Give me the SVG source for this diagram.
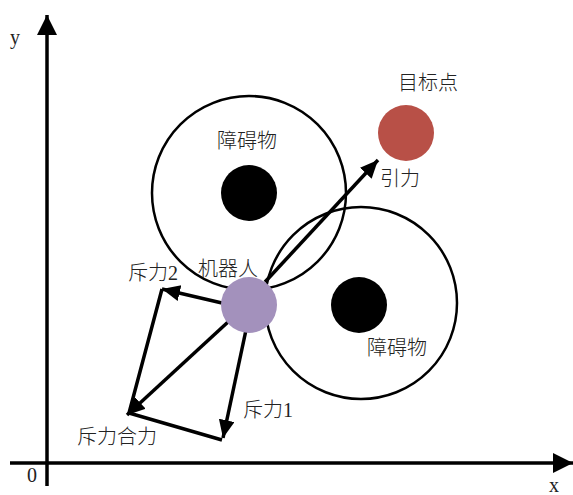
<svg xmlns="http://www.w3.org/2000/svg" width="573" height="495" viewBox="0 0 573 495">
<style>
.t{font-family:"Liberation Serif","Noto Sans CJK SC",serif;font-size:20px;fill:#222;font-weight:300}
.ax{stroke:#000;stroke-width:3.5;fill:none}
.ring{stroke:#000;stroke-width:2.5;fill:none}
.ar{stroke:#000;stroke-width:3.5;fill:none;marker-end:url(#ah)}
.ln{stroke:#000;stroke-width:3.5;fill:none}
</style>
<defs>
<marker id="ah" markerUnits="userSpaceOnUse" markerWidth="20" markerHeight="18" refX="18" refY="8" orient="auto">
<path d="M0,0 L18,8 L0,16 z" fill="#000"/>
</marker>
<marker id="axh" markerUnits="userSpaceOnUse" markerWidth="22" markerHeight="22" refX="20" refY="10" orient="auto">
<path d="M0,0 L20,10 L0,20 z" fill="#000"/>
</marker>
</defs>
<g id="axes">
<line class="ax" x1="47" y1="486" x2="47" y2="15" marker-end="url(#axh)"/>
<line class="ax" x1="10" y1="463" x2="573" y2="463" marker-end="url(#axh)"/>
<text class="t" x="10" y="44">y</text>
<text class="t" x="27" y="482">0</text>
<text class="t" x="549" y="492">x</text>
</g>
<g id="obstacle1">
<circle class="ring" cx="249" cy="193" r="97"/>
<circle cx="249" cy="193" r="28" fill="#000"/>
<text class="t" x="217" y="148">障碍物</text>
</g>
<g id="obstacle2">
<circle class="ring" cx="361" cy="303" r="96"/>
<circle cx="359" cy="305" r="28" fill="#000"/>
<text class="t" x="367" y="355">障碍物</text>
</g>
<g id="target">
<circle cx="406" cy="133" r="28" fill="#B85047"/>
<text class="t" x="398" y="90">目标点</text>
</g>
<g id="connectors">
<line class="ar" x1="265" y1="282" x2="378" y2="160"/>
<line class="ar" x1="222" y1="303" x2="162" y2="289"/>
<line class="ar" x1="246" y1="330" x2="223" y2="438"/>
<line class="ar" x1="228" y1="322" x2="127" y2="415"/>
<polyline class="ln" points="162,289 129,413 222,440"/>
</g>
<g id="robot">
<circle cx="249" cy="305" r="28" fill="#A391BC"/>
<text class="t" x="198" y="276">机器人</text>
</g>
<g id="labels">
<text class="t" x="380" y="186">引力</text>
<text class="t" x="128" y="280">斥力2</text>
<text class="t" x="243" y="417">斥力1</text>
<text class="t" x="77" y="444">斥力合力</text>
</g>
</svg>
